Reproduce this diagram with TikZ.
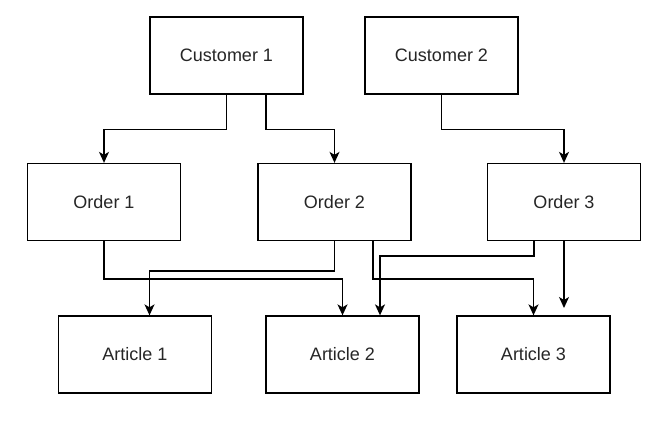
\documentclass[tikz,border=0pt]{standalone}
\usepackage{fontspec}
\setmainfont{Liberation Sans}
\usetikzlibrary{arrows.meta}
\begin{document}
\begin{tikzpicture}[x=1pt,y=-1pt,
  box/.style={draw=black,line width=1.3pt,minimum width=153pt,minimum height=77pt,inner sep=0pt,
    font=\fontsize{18}{21}\selectfont,text=black!85},
  conn/.style={draw=black,line width=1.4pt,-{Stealth[length=11pt,width=10pt,inset=3pt]}}]
\useasboundingbox (0,0) rectangle (671,445);
\fill[white] (0,0) rectangle (671,445);
\node[box] (c1) at (226.5,55.5) {Customer 1};
\node[box] (c2) at (441.5,55.5) {Customer 2};
\node[box] (o1) at (104,202) {Order 1};
\node[box] (o2) at (334.5,202) {Order 2};
\node[box] (o3) at (564,202) {Order 3};
\node[box] (a1) at (135,354.5) {Article 1};
\node[box] (a2) at (342.5,354.5) {Article 2};
\node[box] (a3) at (533.5,354.5) {Article 3};
\coordinate (free) at (564,308);
% customer -> order
\draw[conn] (c1.south) -- ++(0,35) -| (o1.north);
\draw[conn] ([xshift=39.5pt]c1.south) -- ++(0,35) -| (o2.north);
\draw[conn] (c2.south) -- ++(0,35) -| (o3.north);
% order -> article
\draw[conn] (o1.south) -- ++(0,38) -| (a2.north);
\draw[conn] (o2.south) -- ++(0,30) -| ([xshift=14.5pt]a1.north);
\draw[conn] ([xshift=38.5pt]o2.south) -- ++(0,38) -| (a3.north);
\draw[conn] ([xshift=-30pt]o3.south) -- ++(0,15) -| ([xshift=37.5pt]a2.north);
\draw[conn] (o3.south) -- (free);
\end{tikzpicture}
\end{document}
